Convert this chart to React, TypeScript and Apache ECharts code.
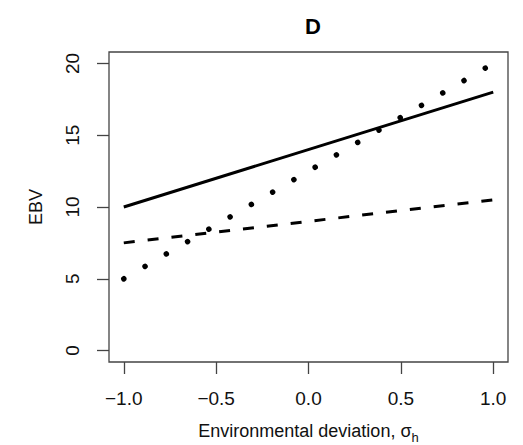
import React, { useEffect, useRef } from "react";
import * as echarts from "echarts";

const xTicks = [-1.0, -0.5, 0.0, 0.5, 1.0];
const yTicks = [0, 5, 10, 15, 20];
const xLabels = ["\u22121.0", "\u22120.5", "0.0", "0.5", "1.0"];
const solidLine: number[][] = [[-1, 10], [1, 18]];
const dashedLine: number[][] = [[-1, 7.5], [1, 10.5]];
const dottedLine: number[][] = [[-1, 5], [1, 20]];

const FONT = "'Liberation Sans', Arial, sans-serif";

export default function App() {
  const ref = useRef<HTMLDivElement>(null);
  useEffect(() => {
    if (!ref.current) return;
    const chart = echarts.init(ref.current, null, { renderer: "svg" });
    chart.setOption({
      animation: false,
      backgroundColor: "#fff",
      textStyle: { fontFamily: FONT },
      title: {
        text: "D",
        left: 300,
        top: 10,
        textStyle: { fontFamily: FONT, fontWeight: "bold", fontSize: 22, color: "#000" },
      },
      grid: {
        left: 109,
        top: 52,
        width: 399,
        height: 310,
        show: true,
        outerBoundsMode: "none",
        containLabel: false,
        borderColor: "#444",
        borderWidth: 1.3,
        backgroundColor: "transparent",
      },
      xAxis: {
        type: "value",
        position: "bottom",
        min: -1.08,
        max: 1.08,
        splitLine: { show: false },
        axisLine: { show: false, onZero: false },
        axisTick: {
          show: true,
          length: 12,
          inside: false,
          customValues: xTicks,
          lineStyle: { color: "#444", width: 1.3 },
        },
        axisLabel: {
          customValues: xTicks,
          margin: 27,
          fontSize: 19,
          color: "#111",
          fontFamily: FONT,
          formatter: (v: number) => {
            const i = xTicks.findIndex((t) => Math.abs(t - v) < 1e-9);
            return i >= 0 ? xLabels[i] : "";
          },
        },
        name: "Environmental deviation, \u03c3{sub|h}",
        nameLocation: "middle",
        nameGap: 56,
        nameTextStyle: {
          fontSize: 18,
          color: "#111",
          fontFamily: FONT,
          lineHeight: 26,
          rich: {
            sub: { fontSize: 13, verticalAlign: "bottom", color: "#111", fontFamily: FONT, lineHeight: 26 },
          },
        },
      },
      yAxis: {
        type: "value",
        position: "left",
        min: -0.8,
        max: 20.8,
        splitLine: { show: false },
        axisLine: { show: false, onZero: false },
        axisTick: {
          show: true,
          length: 12,
          inside: false,
          customValues: yTicks,
          lineStyle: { color: "#444", width: 1.3 },
        },
        axisLabel: {
          customValues: yTicks,
          rotate: 90,
          margin: 27,
          fontSize: 19,
          color: "#111",
          fontFamily: FONT,
        },
        name: "EBV",
        nameLocation: "middle",
        nameGap: 64,
        nameRotate: 90,
        nameTextStyle: { fontSize: 18, color: "#111", fontFamily: FONT },
      },
      series: [
        {
          type: "line",
          data: solidLine,
          symbol: "none",
          lineStyle: { color: "#000", width: 3 },
        },
        {
          type: "line",
          data: dashedLine,
          symbol: "none",
          lineStyle: { color: "#000", width: 3, type: [11, 13], cap: "butt" },
        },
        {
          type: "line",
          data: dottedLine,
          symbol: "none",
          lineStyle: { color: "#000", width: 5.5, type: [0.01, 24.6], cap: "round" },
        },
      ],
    });
    return () => chart.dispose();
  }, []);
  return (
    <div
      ref={ref}
      style={{ position: "fixed", left: 0, top: 0, width: 523, height: 445 }}
    />
  );
}
